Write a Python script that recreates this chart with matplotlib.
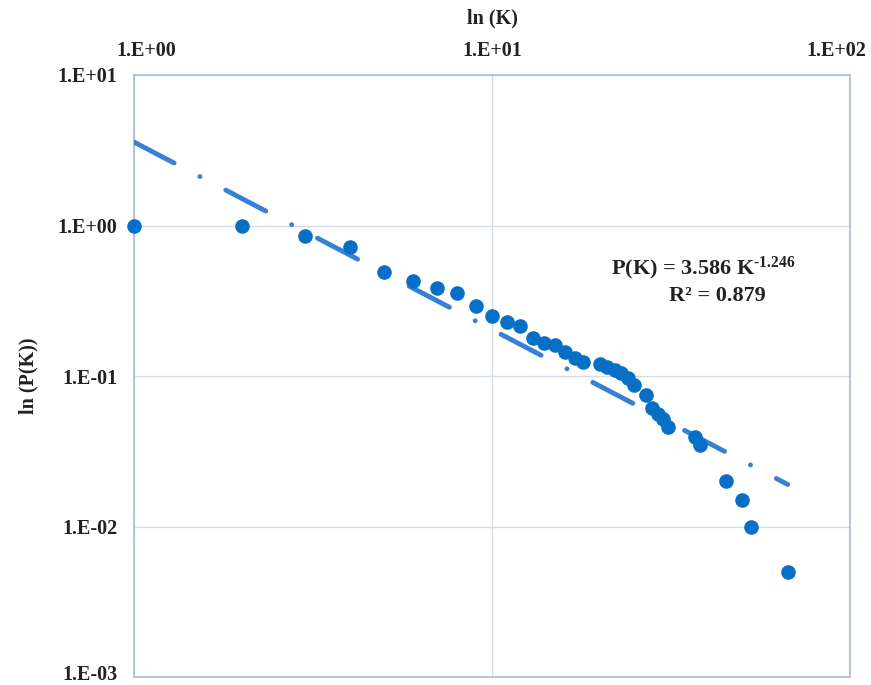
import numpy as np
import matplotlib
matplotlib.use("Agg")
import matplotlib.pyplot as plt
from matplotlib.transforms import ScaledTranslation

# ---- data ----
K = [1, 2, 3, 4, 5, 6, 7, 8, 9, 10, 11, 12, 13, 14, 15, 16, 17, 18, 20, 21, 22,
     23, 24, 25, 27, 28, 29, 30, 31, 37, 38, 45, 50, 53, 67]
P = [1.0, 1.0, 0.85, 0.72, 0.49, 0.43, 0.385, 0.355, 0.29, 0.25, 0.228, 0.215,
     0.18, 0.165, 0.16, 0.145, 0.131, 0.124, 0.121, 0.115, 0.11, 0.105, 0.097,
     0.087, 0.075, 0.061, 0.056, 0.052, 0.046, 0.0395, 0.035, 0.02, 0.015,
     0.01, 0.005]
fit_a = 3.586
fit_b = -1.246
r2 = 0.879
x_ticks = [1, 10, 100]
x_ticklabels = ["1.E+00", "1.E+01", "1.E+02"]
y_ticks = [1e-3, 1e-2, 1e-1, 1e0, 1e1]
y_ticklabels = ["1.E-03", "1.E-02", "1.E-01", "1.E+00", "1.E+01"]

plt.rcParams['font.family'] = ['Liberation Serif', 'DejaVu Serif']
plt.rcParams['font.weight'] = 'bold'
plt.rcParams['mathtext.fontset'] = 'custom'
plt.rcParams['mathtext.rm'] = 'Liberation Serif:bold'
plt.rcParams['mathtext.bf'] = 'Liberation Serif:bold'
plt.rcParams['mathtext.it'] = 'Liberation Serif:bold'
plt.rcParams['mathtext.default'] = 'rm'

fig = plt.figure(figsize=(8.71, 6.85), dpi=100)
ax = fig.add_axes([134 / 871, 1 - 677 / 685, (850 - 134) / 871, (677 - 75) / 685])

ax.set_xscale('log')
ax.set_yscale('log')
ax.set_xlim(1, 100)
ax.set_ylim(1e-3, 1e1)

grid_c = '#D3DCEF'
ax.grid(True, which='major', color=grid_c, linewidth=1.0)
ax.set_axisbelow(True)
for s in ax.spines.values():
    s.set_color('#AEBFE2')
    s.set_linewidth(1.3)

# fitted trend line
kk = np.linspace(1, max(K), 400)
line, = ax.plot(kk, fit_a * kk ** fit_b, color='#3780D4', linewidth=3.5,
                solid_capstyle='round', dash_capstyle='round', zorder=3)
line.set_dashes([9.3, 6.0, 0.01, 6.0])

# data points
ax.plot(K, P, linestyle='none', marker='o', markersize=10.5,
        color='#0770C6', markeredgewidth=0, zorder=4, clip_on=False)

ax.xaxis.tick_top()
ax.xaxis.set_label_position('top')
ax.set_xticks(x_ticks)
ax.set_xticklabels(x_ticklabels, fontsize=14.5, fontweight='bold', color='#222222')
ax.set_yticks(y_ticks)
ax.set_yticklabels(y_ticklabels, fontsize=14.5, fontweight='bold', color='#222222')
ax.minorticks_off()
ax.tick_params(axis='both', length=0)
ax.tick_params(axis='x', pad=10)
ax.tick_params(axis='y', pad=12)

# shift end labels inward as in the reference
labs = ax.get_xticklabels()
labs[0].set_transform(labs[0].get_transform() + ScaledTranslation(0.12, 0, fig.dpi_scale_trans))
labs[-1].set_transform(labs[-1].get_transform() + ScaledTranslation(-0.14, 0, fig.dpi_scale_trans))
ylabs = ax.get_yticklabels()
ylabs[0].set_transform(ylabs[0].get_transform() + ScaledTranslation(0, 0.05, fig.dpi_scale_trans))

ax.set_xlabel('ln (K)', fontsize=14.5, fontweight='bold', color='#222222', labelpad=13)
ax.set_ylabel('ln (P(K))', fontsize=14.5, fontweight='bold', color='#222222', labelpad=14)

ax.text(0.795, 0.678, r'P(K) = 3.586 K$^{\text{-1.246}}$', transform=ax.transAxes,
        ha='center', va='center', fontsize=16, fontweight='bold', color='#222222')
ax.text(0.815, 0.633, 'R² = %.3f' % r2, transform=ax.transAxes,
        ha='center', va='center', fontsize=16, fontweight='bold', color='#222222')

fig.savefig('out.png', dpi=100)
